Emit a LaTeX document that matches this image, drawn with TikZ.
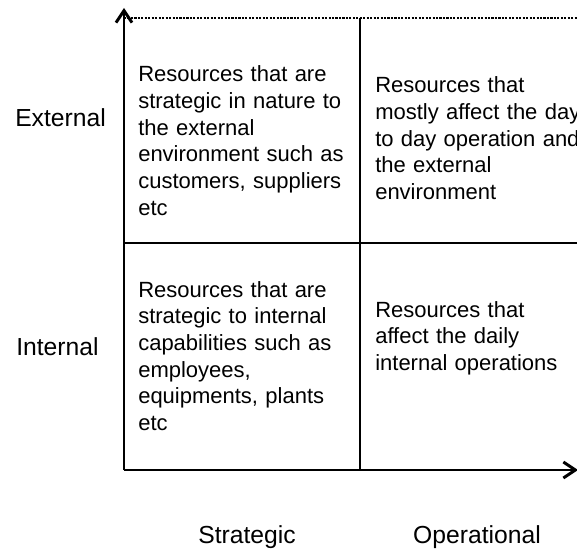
\documentclass[tikz,border=0pt]{standalone}
\usepackage{fontspec}
\setmainfont{Liberation Sans}
\usetikzlibrary{arrows.meta}
\begin{document}
\begin{tikzpicture}[x=0.75pt,y=-0.75pt,
  celltext/.style={anchor=base west, inner sep=0pt, text width=300pt, align=left,
    font=\fontsize{16.5}{20}\selectfont},
  axislabel/.style={anchor=base, inner sep=0pt, font=\fontsize{18.5}{22}\selectfont},
  sidelabel/.style={anchor=base west, inner sep=0pt, font=\fontsize{18.5}{22}\selectfont},
  axisline/.style={line width=2.2pt, -{Straight Barb[length=9pt,width=12pt,line width=2.2pt]}},
  gridline/.style={line width=1.5pt},
  dotline/.style={line width=1.6pt, densely dotted}]
\useasboundingbox (0,0) rectangle (577,552);
\clip (0,0) rectangle (577,552);
% frame coordinates
\coordinate (O) at (124,470);
\coordinate (T) at (124,8);
\coordinate (R) at (578,470);
\coordinate (TL) at (124,18);
\coordinate (TR) at (590,18);
\coordinate (MT) at (360,18);
\coordinate (MB) at (360,470);
\coordinate (ML) at (124,243);
\coordinate (MR) at (590,243);
% grid
\draw[dotline] (TL) -- (TR);
\draw[gridline] (MT) -- (MB);
\draw[gridline] (ML) -- (MR);
% axes
\draw[axisline] (O) -- (T);
\draw[axisline] (O) -- (R);
% cell texts
\node[celltext] (c11) at (138,82) {Resources that are\\strategic in nature to\\the external\\environment such as\\customers, suppliers\\etc};
\node[celltext] (c12) at (375,93) {Resources that\\mostly affect the day\\to day operation and\\the external\\environment};
\node[celltext] (c21) at (138,297) {Resources that are\\strategic to internal\\capabilities such as\\employees,\\equipments, plants\\etc};
\node[celltext] (c22) at (375,317) {Resources that\\affect the daily\\internal operations};
% axis labels
\node[sidelabel] (ext) at (15,127) {External};
\node[sidelabel] (int) at (16,355) {Internal};
\node[axislabel] (str) at (247,543) {Strategic};
\node[axislabel] (ope) at (477,543) {Operational};
\end{tikzpicture}
\end{document}
